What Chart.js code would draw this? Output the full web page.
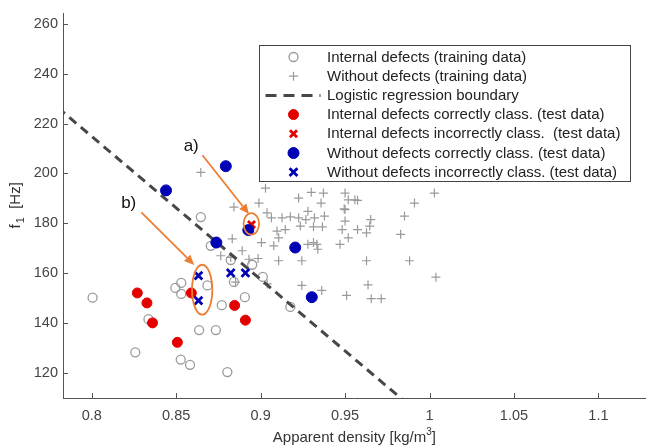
<!DOCTYPE html>
<html>
<head>
<meta charset="utf-8">
<script src="https://cdn.jsdelivr.net/npm/chart.js@4/dist/chart.umd.min.js"></script>
<style>
html,body{margin:0;padding:0;background:#fff;}
#wrap{width:654px;height:445px;position:relative;}
</style>
</head>
<body>
<div id="wrap"><canvas id="c" width="654" height="445"></canvas></div>
<script>
// ---- data ----
const xTickVals = [0.8, 0.85, 0.9, 0.95, 1, 1.05, 1.1];
const yTickVals = [120, 140, 160, 180, 200, 220, 240, 260];

const internalTrain = [
  [0.8005,150.2],[0.8258,128.3],[0.8336,141.6],[0.8495,154.1],[0.8530,156.1],[0.8530,151.7],
  [0.8685,155.1],[0.8636,137.2],[0.8735,137.2],[0.8527,125.4],[0.8582,123.3],[0.8803,120.4],
  [0.8646,182.5],[0.8705,171.0],[0.8823,165.3],[0.8950,163.4],[0.8842,156.5],[0.8907,150.4],
  [0.8770,147.2],[0.9013,158.5],[0.9176,146.5]
];
const withoutTrain = [
  [0.8646,200.4],[0.9029,194.1],[0.9225,190.1],[0.9300,192.4],[0.9372,192.1],[0.9358,188.1],
  [0.9500,192.1],[0.9519,189.4],[0.9574,189.2],[0.9495,185.8],[1.0029,192.1],[0.9911,188.1],
  [0.9852,182.9],[0.9829,175.6],[0.8990,188.1],[0.8842,186.5],[0.9038,184.2],[0.9064,182.2],
  [0.9127,182.2],[0.9176,182.6],[0.9225,182.2],[0.9280,184.8],[0.9268,181.5],[0.9319,182.2],
  [0.9378,182.9],[0.9500,180.9],[0.9652,181.5],[0.9646,178.9],[0.9483,177.5],[0.9574,177.5],
  [0.9519,174.2],[0.9627,176.2],[0.9366,178.6],[0.9313,178.6],[0.9235,178.9],[0.9146,177.5],
  [0.9097,176.9],[0.9107,174.2],[0.9078,171.0],[0.9005,172.3],[0.8832,173.8],[0.8891,169.0],
  [0.8764,167.0],[0.8823,166.3],[0.8931,165.6],[0.8985,165.9],[0.9107,165.0],[0.9244,165.0],
  [0.9280,171.6],[0.9313,172.3],[0.9333,171.6],[0.9339,169.6],[0.9470,171.6],[0.9627,165.0],
  [0.9882,165.0],[1.0038,158.4],[0.9244,155.1],[0.9362,153.1],[0.9509,151.1],[0.9636,155.3],
  [0.9655,149.8],[0.9714,149.8],[0.8852,156.4],[0.9039,155.7],[0.9500,185.5],[0.9558,189.4]
];
const boundaryX = [0.78, 0.985];
const boundaryY = [226.3, 108.8];
const internalCorrect = [[0.8270,152.1],[0.8327,148.1],[0.8360,140.1],[0.8507,132.3],[0.8590,152.1],[0.8846,147.1],[0.8910,141.2]];
const internalIncorrect = [[0.8946,179.5]];
const withoutCorrect = [[0.8794,202.9],[0.8440,193.2],[0.8738,172.3],[0.8927,177.3],[0.9205,170.3],[0.9303,150.4]];
const withoutIncorrect = [[0.8632,159.0],[0.8632,149.0],[0.8823,160.1],[0.8910,160.1]];

const seriesLabels = [
  'Internal defects (training data)',
  'Without defects (training data)',
  'Logistic regression boundary',
  'Internal defects correctly class. (test data)',
  'Internal defects incorrectly class.  (test data)',
  'Without defects correctly class. (test data)',
  'Without defects incorrectly class. (test data)'
];

const pts = a => a.map(p => ({x: p[0], y: p[1]}));

// annotation anchors in data units
const annot = {
  ellipses: [{x:0.8945, y:179.8, rx:0.0046, ry:4.3}, {x:0.8654, y:153.4, rx:0.0060, ry:10.0}],
  arrows: [{x1:0.8656, y1:207.3, x2:0.8931, y2:183.7}, {x1:0.8294, y1:184.4, x2:0.8607, y2:163.3}],
  labels: [{t:'a)', x:0.8589, y:210.8}, {t:'b)', x:0.8219, y:188.1}]
};

const FONT = "'Liberation Sans', Arial, sans-serif";
const GRAY = '#9a9a9a';
const RED = '#e50000';
const BLUE = '#0000b4';
const ORANGE = '#ED7D31';

function drawSymbol(ctx, ds, x, y) {
  ctx.save();
  if (ds.type === 'line') {
    ctx.strokeStyle = ds.borderColor; ctx.lineWidth = ds.borderWidth;
    ctx.setLineDash([11, 7]);
    ctx.beginPath(); ctx.moveTo(x - 28, y); ctx.lineTo(x + 27, y); ctx.stroke();
    ctx.restore(); return;
  }
  const r = ds.pointRadius;
  ctx.lineWidth = ds.borderWidth;
  ctx.strokeStyle = ds.borderColor;
  ctx.fillStyle = ds.backgroundColor;
  ctx.beginPath();
  if (ds.pointStyle === 'circle') {
    ctx.arc(x, y, r, 0, Math.PI * 2);
    if (ds.backgroundColor !== 'rgba(0,0,0,0)') ctx.fill();
    ctx.stroke();
  } else if (ds.pointStyle === 'cross') {
    ctx.moveTo(x - r, y); ctx.lineTo(x + r, y);
    ctx.moveTo(x, y - r); ctx.lineTo(x, y + r); ctx.stroke();
  } else {
    const o = r * Math.SQRT1_2;
    ctx.moveTo(x - o, y - o); ctx.lineTo(x + o, y + o);
    ctx.moveTo(x + o, y - o); ctx.lineTo(x - o, y + o); ctx.stroke();
  }
  ctx.restore();
}

const decoPlugin = {
  id: 'deco',
  afterDatasetsDraw(chart) {
    const ctx = chart.ctx, xs = chart.scales.x, ys = chart.scales.y, ca = chart.chartArea;
    ctx.save();
    // inward ticks
    ctx.strokeStyle = '#555'; ctx.lineWidth = 1;
    xTickVals.forEach(v => {
      const px = Math.round(xs.getPixelForValue(v)) + 0.5;
      ctx.beginPath(); ctx.moveTo(px, ca.bottom); ctx.lineTo(px, ca.bottom - 5); ctx.stroke();
    });
    yTickVals.forEach(v => {
      const py = Math.round(ys.getPixelForValue(v)) + 0.5;
      ctx.beginPath(); ctx.moveTo(ca.left, py); ctx.lineTo(ca.left + 5, py); ctx.stroke();
    });
    // legend box
    const L = 259.5, T = 45.5, W = 371, H = 136;
    ctx.fillStyle = '#fff'; ctx.fillRect(L, T, W, H);
    ctx.strokeStyle = '#444'; ctx.lineWidth = 1; ctx.strokeRect(L, T, W, H);
    ctx.font = '15px ' + FONT; ctx.textBaseline = 'middle'; ctx.textAlign = 'left';
    chart.data.datasets.forEach((ds, i) => {
      const y = 57 + i * 19.2;
      drawSymbol(ctx, ds, 293.5, y);
      ctx.fillStyle = '#222';
      ctx.fillText(ds.label, 327, y + 0.5);
    });
    // annotations
    ctx.strokeStyle = ORANGE; ctx.fillStyle = ORANGE; ctx.lineWidth = 1.8;
    annot.ellipses.forEach(e => {
      const cx = xs.getPixelForValue(e.x), cy = ys.getPixelForValue(e.y);
      const rx = Math.abs(xs.getPixelForValue(e.x + e.rx) - cx);
      const ry = Math.abs(ys.getPixelForValue(e.y + e.ry) - cy);
      ctx.beginPath(); ctx.ellipse(cx, cy, rx, ry, 0, 0, Math.PI * 2); ctx.stroke();
    });
    annot.arrows.forEach(a => {
      const x1 = xs.getPixelForValue(a.x1), y1 = ys.getPixelForValue(a.y1);
      const x2 = xs.getPixelForValue(a.x2), y2 = ys.getPixelForValue(a.y2);
      const ang = Math.atan2(y2 - y1, x2 - x1);
      const hl = 10, hw = 4.5;
      const bx = x2 - hl * Math.cos(ang), by = y2 - hl * Math.sin(ang);
      ctx.beginPath(); ctx.moveTo(x1, y1); ctx.lineTo(bx, by); ctx.stroke();
      ctx.beginPath();
      ctx.moveTo(x2, y2);
      ctx.lineTo(bx + hw * Math.sin(ang), by - hw * Math.cos(ang));
      ctx.lineTo(bx - hw * Math.sin(ang), by + hw * Math.cos(ang));
      ctx.closePath(); ctx.fill();
    });
    ctx.fillStyle = '#111'; ctx.font = '17px ' + FONT; ctx.textAlign = 'center'; ctx.textBaseline = 'middle';
    annot.labels.forEach(l => ctx.fillText(l.t, xs.getPixelForValue(l.x), ys.getPixelForValue(l.y)));
    ctx.restore();
  },
  afterDraw(chart) {
    const ctx = chart.ctx, ca = chart.chartArea;
    ctx.save();
    ctx.fillStyle = '#333'; ctx.textBaseline = 'alphabetic';
    // x title with superscript
    const a = 'Apparent density [kg/m', s = '3', b = ']';
    ctx.font = '15px ' + FONT; const wa = ctx.measureText(a).width, wb = ctx.measureText(b).width;
    ctx.font = '10px ' + FONT; const ws = ctx.measureText(s).width;
    let x = (ca.left + ca.right) / 2 - (wa + ws + wb) / 2; const yb = 442;
    ctx.textAlign = 'left';
    ctx.font = '15px ' + FONT; ctx.fillText(a, x, yb); x += wa;
    ctx.font = '10px ' + FONT; ctx.fillText(s, x, yb - 7); x += ws;
    ctx.font = '15px ' + FONT; ctx.fillText(b, x, yb);
    // y title with subscript
    ctx.translate(20, (ca.top + ca.bottom) / 2);
    ctx.rotate(-Math.PI / 2);
    const f = 'f', one = '1', hz = '  [Hz]';
    ctx.font = '15px ' + FONT; const wf = ctx.measureText(f).width, wh = ctx.measureText(hz).width;
    ctx.font = '11px ' + FONT; const w1 = ctx.measureText(one).width;
    let t = -(wf + w1 + wh) / 2;
    ctx.font = '15px ' + FONT; ctx.fillText(f, t, 0); t += wf + 1;
    ctx.font = '11px ' + FONT; ctx.fillText(one, t, 4); t += w1;
    ctx.font = '15px ' + FONT; ctx.fillText(hz, t, 0);
    ctx.restore();
  }
};

const ds = [
  {label: seriesLabels[0], data: pts(internalTrain), pointStyle: 'circle', pointRadius: 4.5,
   borderColor: GRAY, backgroundColor: 'rgba(0,0,0,0)', borderWidth: 1.3, order: 7},
  {label: seriesLabels[1], data: pts(withoutTrain), pointStyle: 'cross', pointRadius: 4.5,
   borderColor: GRAY, backgroundColor: GRAY, borderWidth: 1.2, order: 6},
  {label: seriesLabels[2], type: 'line', data: boundaryX.map((v, i) => ({x: v, y: boundaryY[i]})),
   borderColor: '#474747', borderWidth: 3, borderDash: [9, 6], pointRadius: 0, fill: false,
   showLine: true, clip: 0, order: 5},
  {label: seriesLabels[3], data: pts(internalCorrect), pointStyle: 'circle', pointRadius: 5,
   borderColor: RED, backgroundColor: RED, borderWidth: 1, order: 4},
  {label: seriesLabels[4], data: pts(internalIncorrect), pointStyle: 'crossRot', pointRadius: 5,
   borderColor: RED, backgroundColor: RED, borderWidth: 2.8, order: 3},
  {label: seriesLabels[5], data: pts(withoutCorrect), pointStyle: 'circle', pointRadius: 5.5,
   borderColor: BLUE, backgroundColor: BLUE, borderWidth: 1, order: 2},
  {label: seriesLabels[6], data: pts(withoutIncorrect), pointStyle: 'crossRot', pointRadius: 5.5,
   borderColor: BLUE, backgroundColor: BLUE, borderWidth: 2.8, order: 1}
];

new Chart(document.getElementById('c'), {
  type: 'scatter',
  data: {datasets: ds},
  options: {
    responsive: false,
    animation: false,
    devicePixelRatio: 1,
    layout: {padding: {left: 0, right: 4, top: 9, bottom: 0}},
    plugins: {legend: {display: false}, tooltip: {enabled: false}},
    scales: {
      x: {
        type: 'linear', min: 0.783, max: 1.128,
        afterBuildTicks: s => { s.ticks = xTickVals.map(v => ({value: v})); },
        afterFit: s => { s.height = 47; },
        ticks: {font: {family: FONT, size: 14.5}, color: '#444', padding: 9, maxRotation: 0,
                callback: v => String(v)},
        grid: {display: true, drawOnChartArea: false, drawTicks: false},
        border: {display: true, color: '#555', width: 1}
      },
      y: {
        type: 'linear', min: 110, max: 264,
        afterBuildTicks: s => { s.ticks = yTickVals.map(v => ({value: v})); },
        afterFit: s => { s.width = 63; },
        ticks: {font: {family: FONT, size: 14.5}, color: '#444', padding: 5,
                callback: v => String(v)},
        grid: {display: true, drawOnChartArea: false, drawTicks: false},
        border: {display: true, color: '#555', width: 1}
      }
    }
  },
  plugins: [decoPlugin]
});
</script>
</body>
</html>
